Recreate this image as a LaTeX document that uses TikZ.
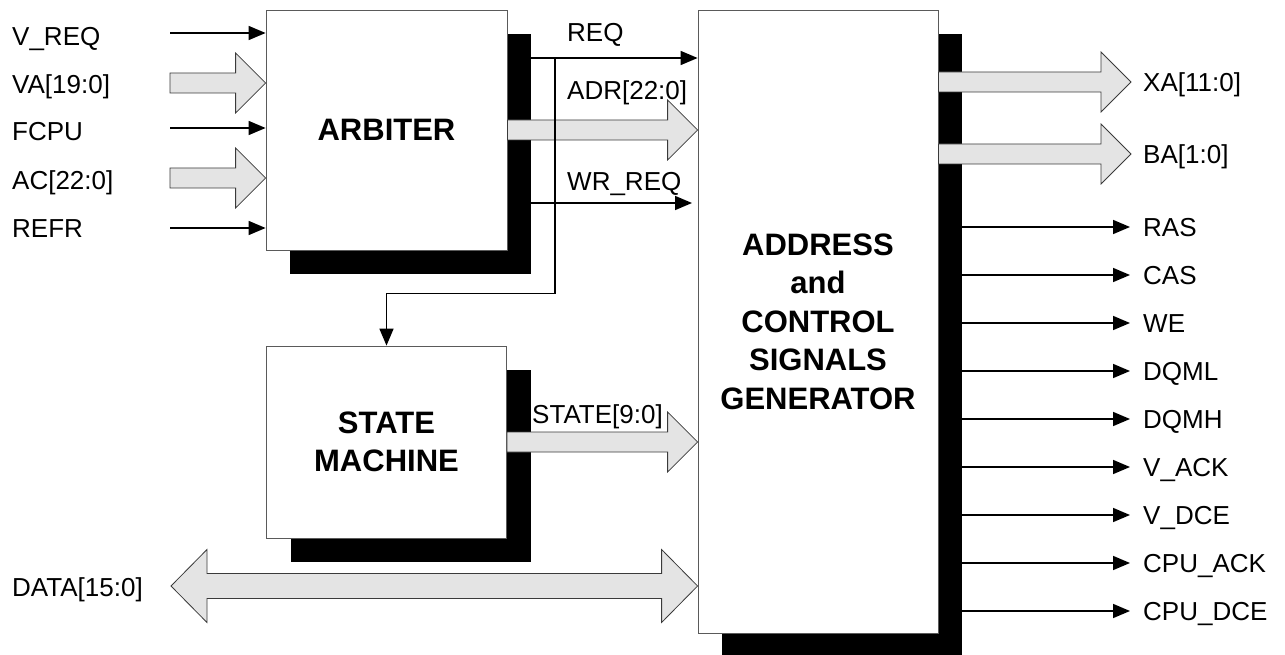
\documentclass[tikz,border=0pt]{standalone}
\usepackage{fontspec}
\setmainfont{Liberation Sans}
\usetikzlibrary{positioning,calc,arrows.meta,shadows}

\definecolor{busfill}{HTML}{E4E4E4}
\definecolor{busedge}{HTML}{3A3A3A}
\definecolor{boxedge}{HTML}{5A5A5A}
\pgfdeclarelayer{wires}
\pgfsetlayers{wires,main}

\tikzset{
  busbody/.store in=\busB, bushead/.store in=\busH, buslen/.store in=\busL,
  busbody=10pt, bushead=30pt, buslen=30pt,
  bus/.style={draw=busedge, fill=busfill, line width=0.8pt,
    to path={let \p1=(\tikztostart), \p2=(\tikztotarget) in
      (\x1,\y1+\busB) -- (\x2-\busL,\y1+\busB) -- (\x2-\busL,\y1+\busH) -- (\x2,\y1)
      -- (\x2-\busL,\y1-\busH) -- (\x2-\busL,\y1-\busB) -- (\x1,\y1-\busB) -- cycle}},
  dbus/.style={draw=busedge, fill=busfill, line width=0.8pt,
    to path={let \p1=(\tikztostart), \p2=(\tikztotarget) in
      (\x1,\y1) -- (\x1+\busL,\y1+\busH) -- (\x1+\busL,\y1+\busB) -- (\x2-\busL,\y1+\busB)
      -- (\x2-\busL,\y1+\busH) -- (\x2,\y1) -- (\x2-\busL,\y1-\busH) -- (\x2-\busL,\y1-\busB)
      -- (\x1+\busL,\y1-\busB) -- (\x1+\busL,\y1-\busH) -- cycle}}
}

\begin{document}
\begin{tikzpicture}[x=1pt, y=-1pt, font=\fontsize{26}{31}\selectfont,
  block/.style={draw=boxedge, line width=0.8pt, fill=white, align=center,
    font=\bfseries\fontsize{31}{38.5}\selectfont,
    drop shadow={shadow xshift=24pt, shadow yshift=-24pt, fill=black, opacity=1}},
  lbl/.style={inner sep=0pt, text height=18.6pt, text depth=0pt},
  wire/.style={line width=1.6pt, -{Triangle[length=17pt, width=14pt]}}]
\useasboundingbox (0,0) rectangle (1285,655);

% blocks
\node[block, minimum width=241pt, minimum height=240pt] (arb) at (386.5,130) {ARBITER};
\node[block, minimum width=240pt, minimum height=192pt] (sm) at (386.5,442) {STATE\\MACHINE};
\node[block, minimum width=240pt, minimum height=623pt] (acg) at (818,321.5)
  {ADDRESS\\and\\CONTROL\\SIGNALS\\GENERATOR};

% single inputs of the arbiter
\begin{pgfonlayer}{wires}
\foreach \n/\y/\ly/\t in {vreq/33/36/V\_REQ, fcpu/128/131/FCPU, refr/228/228/REFR}{
  \coordinate (\n) at (170,\y);
  \node[lbl, anchor=west] (\n-l) at (12,\ly) {\t};
  \draw[wire] (\n) -- (arb.west |- \n);
}

% REQ, WR_REQ
\coordinate (req) at (555,58);
\coordinate (wrreq) at (692,203);
\draw[wire] (arb.east |- req) -- (acg.west |- req);
\draw[wire] (arb.east |- wrreq) -- (wrreq);

% outputs
\foreach \n/\t [count=\i from 0] in {ras/RAS, cas/CAS, we/WE, dqml/DQML, dqmh/DQMH,
    vack/V\_ACK, vdce/V\_DCE, cpuack/CPU\_ACK, cpudce/CPU\_DCE}{
  \coordinate (\n) at (1130,227+48*\i);
  \draw[wire] (acg.east |- \n) -- (\n);
  \node[lbl, right=13pt of \n] (\n-l) {\t};
}
\end{pgfonlayer}

% buses
\coordinate (va) at (170,83);
\coordinate (ac) at (170,178);
\coordinate (xa) at (1131,82);
\coordinate (ba) at (1131,154);
\coordinate (data) at (171,586);
\node[lbl, anchor=west] (va-l) at (12,84) {VA[19:0]};
\node[lbl, anchor=west] (ac-l) at (12,180) {AC[22:0]};
\draw[bus] (va) to (arb.west |- va);
\draw[bus] (ac) to (arb.west |- ac);
\draw[bus] (arb.east) to (acg.west |- arb.east);
\draw[bus] (sm.east) to (acg.west |- sm.east);
\draw[bus] (acg.east |- xa) to (xa);
\draw[bus] (acg.east |- ba) to (ba);
\draw[dbus, busbody=12.5pt, bushead=36.5pt, buslen=36pt] (data) to (acg.west |- data);
\node[lbl, right=12pt of xa] (xa-l) {XA[11:0]};
\node[lbl, right=12pt of ba] (ba-l) {BA[1:0]};
\node[lbl, anchor=west] (data-l) at (12,587) {DATA[15:0]};

% labels between the blocks
\node[lbl, anchor=west] (req-l) at (567,32) {REQ};
\node[lbl, anchor=west] (adr-l) at (567,90.5) {ADR[22:0]};
\node[lbl, anchor=west] (wrreq-l) at (567,181) {WR\_REQ};
\node[lbl, anchor=west] (state-l) at (532,414) {STATE[9:0]};

% REQ also goes to the state machine
\draw[wire] (req) |- ([yshift=52pt]sm.north) -- (sm.north);
\end{tikzpicture}
\end{document}
